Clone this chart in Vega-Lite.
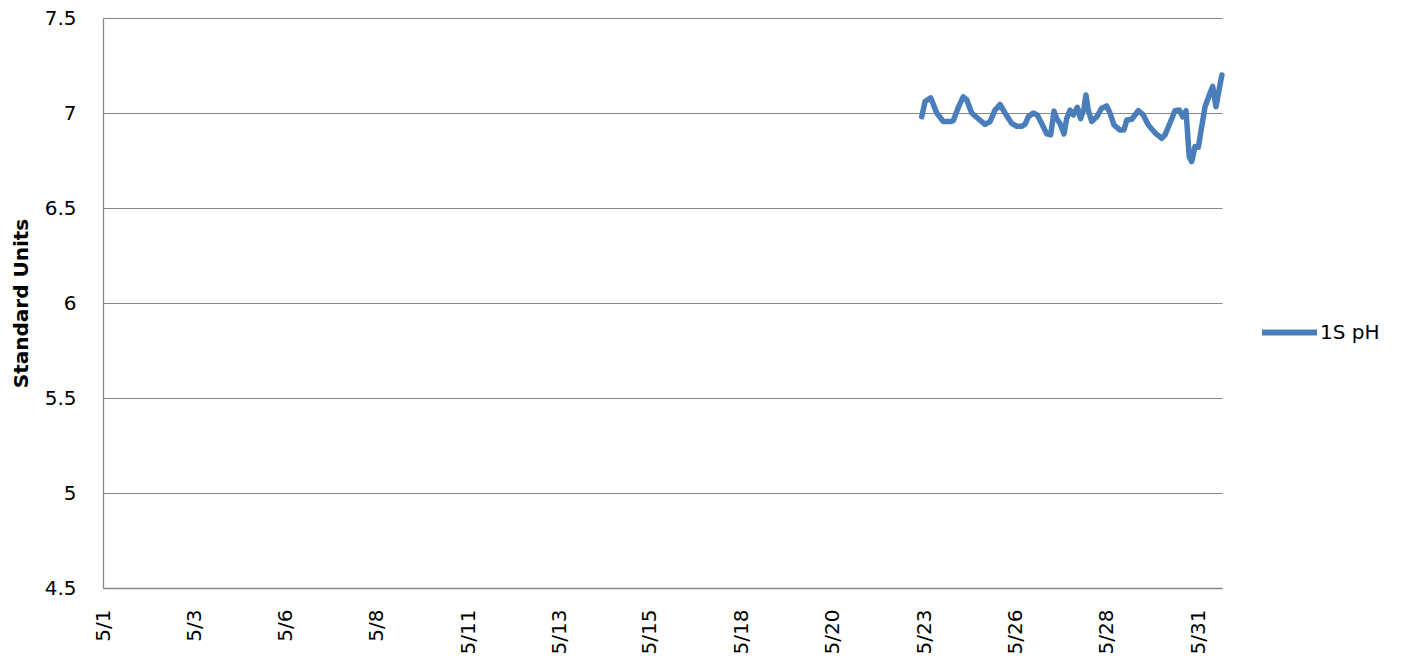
{
  "$schema": "https://vega.github.io/schema/vega-lite/v6.json",
  "width": 1119,
  "height": 570,
  "autosize": {"type": "none"},
  "padding": {"left": 103, "top": 18, "right": 181, "bottom": 71},
  "background": "white",
  "config": {
    "view": {"stroke": null},
    "font": "DejaVu Sans",
    "axis": {"labelFont": "DejaVu Sans", "labelColor": "#000000", "titleColor": "#000000", "gridColor": "#878787", "gridWidth": 1, "domainColor": "#878787", "domainWidth": 1.3, "ticks": false, "tickSize": 0}
  },
  "data": {
    "values": [
      {"time": "2013-05-23T10:18", "pH": 6.98, "series": "1S pH"},
      {"time": "2013-05-23T12:30", "pH": 7.06, "series": "1S pH"},
      {"time": "2013-05-23T16:12", "pH": 7.08, "series": "1S pH"},
      {"time": "2013-05-23T20:12", "pH": 7.0, "series": "1S pH"},
      {"time": "2013-05-24T00:30", "pH": 6.955, "series": "1S pH"},
      {"time": "2013-05-24T04:54", "pH": 6.955, "series": "1S pH"},
      {"time": "2013-05-24T07:06", "pH": 6.96, "series": "1S pH"},
      {"time": "2013-05-24T10:24", "pH": 7.03, "series": "1S pH"},
      {"time": "2013-05-24T13:36", "pH": 7.085, "series": "1S pH"},
      {"time": "2013-05-24T15:54", "pH": 7.07, "series": "1S pH"},
      {"time": "2013-05-24T19:12", "pH": 7.0, "series": "1S pH"},
      {"time": "2013-05-24T23:30", "pH": 6.97, "series": "1S pH"},
      {"time": "2013-05-25T03:54", "pH": 6.94, "series": "1S pH"},
      {"time": "2013-05-25T07:12", "pH": 6.955, "series": "1S pH"},
      {"time": "2013-05-25T10:30", "pH": 7.015, "series": "1S pH"},
      {"time": "2013-05-25T13:48", "pH": 7.045, "series": "1S pH"},
      {"time": "2013-05-25T17:06", "pH": 7.0, "series": "1S pH"},
      {"time": "2013-05-25T21:30", "pH": 6.945, "series": "1S pH"},
      {"time": "2013-05-26T00:48", "pH": 6.93, "series": "1S pH"},
      {"time": "2013-05-26T04:00", "pH": 6.93, "series": "1S pH"},
      {"time": "2013-05-26T06:12", "pH": 6.94, "series": "1S pH"},
      {"time": "2013-05-26T08:24", "pH": 6.98, "series": "1S pH"},
      {"time": "2013-05-26T11:42", "pH": 7.0, "series": "1S pH"},
      {"time": "2013-05-26T14:18", "pH": 6.99, "series": "1S pH"},
      {"time": "2013-05-26T17:12", "pH": 6.945, "series": "1S pH"},
      {"time": "2013-05-26T20:30", "pH": 6.89, "series": "1S pH"},
      {"time": "2013-05-26T23:06", "pH": 6.885, "series": "1S pH"},
      {"time": "2013-05-27T01:18", "pH": 7.01, "series": "1S pH"},
      {"time": "2013-05-27T03:06", "pH": 6.97, "series": "1S pH"},
      {"time": "2013-05-27T05:12", "pH": 6.945, "series": "1S pH"},
      {"time": "2013-05-27T07:54", "pH": 6.89, "series": "1S pH"},
      {"time": "2013-05-27T09:36", "pH": 6.97, "series": "1S pH"},
      {"time": "2013-05-27T11:48", "pH": 7.015, "series": "1S pH"},
      {"time": "2013-05-27T14:00", "pH": 6.99, "series": "1S pH"},
      {"time": "2013-05-27T16:36", "pH": 7.03, "series": "1S pH"},
      {"time": "2013-05-27T18:48", "pH": 6.97, "series": "1S pH"},
      {"time": "2013-05-27T21:00", "pH": 7.025, "series": "1S pH"},
      {"time": "2013-05-27T22:18", "pH": 7.095, "series": "1S pH"},
      {"time": "2013-05-27T23:48", "pH": 7.015, "series": "1S pH"},
      {"time": "2013-05-28T02:06", "pH": 6.955, "series": "1S pH"},
      {"time": "2013-05-28T05:24", "pH": 6.98, "series": "1S pH"},
      {"time": "2013-05-28T08:36", "pH": 7.025, "series": "1S pH"},
      {"time": "2013-05-28T11:54", "pH": 7.037, "series": "1S pH"},
      {"time": "2013-05-28T14:06", "pH": 7.0, "series": "1S pH"},
      {"time": "2013-05-28T16:42", "pH": 6.937, "series": "1S pH"},
      {"time": "2013-05-28T20:42", "pH": 6.91, "series": "1S pH"},
      {"time": "2013-05-28T23:18", "pH": 6.91, "series": "1S pH"},
      {"time": "2013-05-29T01:06", "pH": 6.963, "series": "1S pH"},
      {"time": "2013-05-29T04:24", "pH": 6.967, "series": "1S pH"},
      {"time": "2013-05-29T08:42", "pH": 7.012, "series": "1S pH"},
      {"time": "2013-05-29T12:00", "pH": 6.99, "series": "1S pH"},
      {"time": "2013-05-29T15:18", "pH": 6.937, "series": "1S pH"},
      {"time": "2013-05-29T19:42", "pH": 6.896, "series": "1S pH"},
      {"time": "2013-05-30T00:06", "pH": 6.867, "series": "1S pH"},
      {"time": "2013-05-30T02:18", "pH": 6.885, "series": "1S pH"},
      {"time": "2013-05-30T05:30", "pH": 6.946, "series": "1S pH"},
      {"time": "2013-05-30T08:48", "pH": 7.012, "series": "1S pH"},
      {"time": "2013-05-30T11:42", "pH": 7.016, "series": "1S pH"},
      {"time": "2013-05-30T13:54", "pH": 6.98, "series": "1S pH"},
      {"time": "2013-05-30T16:06", "pH": 7.012, "series": "1S pH"},
      {"time": "2013-05-30T18:12", "pH": 6.77, "series": "1S pH"},
      {"time": "2013-05-30T19:48", "pH": 6.744, "series": "1S pH"},
      {"time": "2013-05-30T22:00", "pH": 6.823, "series": "1S pH"},
      {"time": "2013-05-31T00:12", "pH": 6.82, "series": "1S pH"},
      {"time": "2013-05-31T02:24", "pH": 6.928, "series": "1S pH"},
      {"time": "2013-05-31T04:36", "pH": 7.033, "series": "1S pH"},
      {"time": "2013-05-31T07:24", "pH": 7.095, "series": "1S pH"},
      {"time": "2013-05-31T09:36", "pH": 7.14, "series": "1S pH"},
      {"time": "2013-05-31T11:48", "pH": 7.033, "series": "1S pH"},
      {"time": "2013-05-31T14:00", "pH": 7.13, "series": "1S pH"},
      {"time": "2013-05-31T15:42", "pH": 7.2, "series": "1S pH"}
    ]
  },
  "mark": {"type": "line", "strokeWidth": 5.5, "strokeCap": "round", "strokeJoin": "round"},
  "encoding": {
    "x": {
      "field": "time",
      "type": "temporal",
      "scale": {
        "domain": [
          {"year": 2013, "month": 5, "date": 1},
          {"year": 2013, "month": 5, "date": 31, "hours": 15, "minutes": 45}
        ],
        "nice": false
      },
      "axis": {
        "title": null,
        "format": "%-m/%-d",
        "labelAngle": -90,
        "labelAlign": "right",
        "labelBaseline": "middle",
        "labelFontSize": 20,
        "labelPadding": 21,
        "labelOverlap": false,
        "grid": false,
        "values": [
          {"year": 2013, "month": 5, "date": 1},
          {"year": 2013, "month": 5, "date": 3, "hours": 12},
          {"year": 2013, "month": 5, "date": 6},
          {"year": 2013, "month": 5, "date": 8, "hours": 12},
          {"year": 2013, "month": 5, "date": 11},
          {"year": 2013, "month": 5, "date": 13, "hours": 12},
          {"year": 2013, "month": 5, "date": 15, "hours": 23, "minutes": 30},
          {"year": 2013, "month": 5, "date": 18, "hours": 12},
          {"year": 2013, "month": 5, "date": 20, "hours": 23, "minutes": 30},
          {"year": 2013, "month": 5, "date": 23, "hours": 12},
          {"year": 2013, "month": 5, "date": 26},
          {"year": 2013, "month": 5, "date": 28, "hours": 12},
          {"year": 2013, "month": 5, "date": 31}
        ]
      }
    },
    "y": {
      "field": "pH",
      "type": "quantitative",
      "scale": {"domain": [4.5, 7.5], "nice": false, "zero": false},
      "axis": {
        "title": "Standard Units",
        "titleFontSize": 20,
        "titleFontWeight": "bold",
        "titlePadding": 13,
        "values": [4.5, 5, 5.5, 6, 6.5, 7, 7.5],
        "format": "~g",
        "labelFontSize": 20,
        "labelPadding": 27,
        "grid": true
      }
    },
    "color": {
      "field": "series",
      "type": "nominal",
      "scale": {"range": ["#4A7EBB"]},
      "legend": {
        "title": null,
        "orient": "none",
        "legendX": 1156,
        "legendY": 284,
        "padding": 0,
        "symbolType": "stroke",
        "symbolSize": 3025,
        "symbolStrokeWidth": 6,
        "labelFontSize": 20,
        "labelOffset": 0,
        "labelColor": "#000000",
        "labelFont": "DejaVu Sans"
      }
    }
  }
}
